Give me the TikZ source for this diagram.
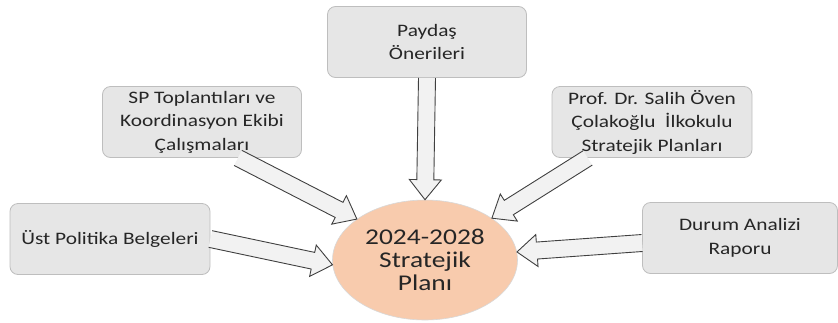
\documentclass[tikz,border=0pt]{standalone}
\usepackage{fontspec}
\setmainfont{Carlito}[FakeStretch=1.22]
\usetikzlibrary{calc,shapes.geometric}

\definecolor{kutugri}{RGB}{230,230,230}
\definecolor{kutukenar}{RGB}{190,190,190}
\definecolor{planrenk}{RGB}{248,203,173}
\definecolor{okdolgu}{RGB}{242,242,242}
\definecolor{okkenar}{RGB}{64,64,64}
\definecolor{yazi}{RGB}{38,38,38}

\tikzset{
  kutu/.style={draw=kutukenar, fill=kutugri, rounded corners=8pt, line width=0.8pt,
    minimum width=200pt, minimum height=71pt, align=center, text=yazi,
    font=\fontsize{17.5}{23.5}\selectfont},
  plannode/.style={ellipse, draw=kutukenar!60, fill=planrenk, line width=0.6pt,
    minimum width=185pt, minimum height=120pt, align=center, text=yazi, inner sep=0pt,
    font=\fontsize{22.5}{23}\selectfont},
  blokok/.style={draw=okkenar, fill=okdolgu, line width=0.9pt, line join=miter}
}

% fat arrow from #1 to #2, open at its start
\newcommand{\blokok}[2]{%
  \coordinate (hb) at ($(#2)!20pt!(#1)$);
  \draw[blokok] ($(#1)!8.5pt!90:(#2)$) -- ($(hb)!8.5pt!90:(#2)$) -- ($(hb)!16pt!90:(#2)$)
    -- (#2) -- ($(hb)!16pt!-90:(#2)$) -- ($(hb)!8.5pt!-90:(#2)$) -- ($(#1)!8.5pt!-90:(#2)$);
}

\begin{document}
\begin{tikzpicture}[x=1pt,y=1pt,yscale=-1,xscale=1]
  \useasboundingbox (0,0) rectangle (838,322);

  % Ellipse
  \node[plannode] (plan) at (425,260) {2024-2028\\Stratejik\\Planı};

  % Text Nodes (boxes)
  \node[kutu, minimum width=199pt] (paydas) at (427,42) {Paydaş\\Önerileri};
  \node[kutu, minimum width=199pt] (sp) at (202,122) {SP Toplantıları ve\\Koordinasyon Ekibi\\Çalışmaları};
  \node[kutu, minimum width=200pt] (prof) at (652,122) {Prof. Dr. Salih Öven\\Çolakoğlu~ İlkokulu\\Stratejik Planları};
  \node[kutu, minimum width=200pt] (ust) at (110,239) {Üst Politika Belgeleri};
  \node[kutu, minimum width=195pt] (durum) at (740,238) {Durum Analizi\\Raporu};

  % start points of the arrows
  \coordinate (spalt) at ($(sp.south west)!0.68!(sp.south east)$);
  \coordinate (profalt) at ($(prof.south west)!0.18!(prof.south east)$);
  \coordinate (durumsol) at ($(durum.west)+(0,5)$);

  % Arrows
  \blokok{paydas.south}{plan.north}
  \blokok{spalt}{plan.149}
  \blokok{profalt}{plan.32}
  \blokok{ust.east}{plan.183}
  \blokok{durumsol}{plan.5}
\end{tikzpicture}
\end{document}
